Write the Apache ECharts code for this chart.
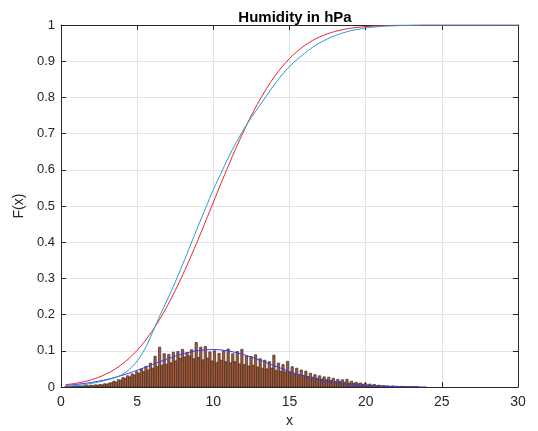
<!DOCTYPE html>
<html><head><meta charset="utf-8">
<script src="https://cdn.jsdelivr.net/npm/echarts@6/dist/echarts.min.js"></script>
<style>html,body{margin:0;padding:0;background:#fff}#c{width:538px;height:431px}</style>
</head><body><div id="c"></div>
<script>
const titleText = 'Humidity in hPa';
const xName = 'x';
const yName = 'F(x)';
const binStart = 0.25;
const binWidth = 0.15;
const histValues = [
0.001,0.002,0.001,0.002,0.002,0.002,0.003,0.002,0.003,0.004,
0.003,0.005,0.004,0.006,0.005,0.007,0.006,0.009,0.008,0.011,
0.012,0.016,0.014,0.020,0.019,0.026,0.024,0.031,0.028,0.036,
0.033,0.042,0.038,0.050,0.043,0.057,0.047,0.066,0.052,0.085,
0.056,0.110,0.060,0.092,0.063,0.090,0.067,0.096,0.072,0.098,
0.080,0.104,0.083,0.095,0.086,0.103,0.078,0.123,0.082,0.110,
0.075,0.112,0.080,0.097,0.072,0.100,0.068,0.093,0.074,0.100,
0.070,0.105,0.067,0.092,0.070,0.098,0.064,0.104,0.062,0.086,
0.058,0.084,0.060,0.089,0.055,0.078,0.052,0.074,0.050,0.070,
0.052,0.088,0.046,0.066,0.044,0.062,0.042,0.071,0.040,0.056,
0.036,0.052,0.034,0.047,0.032,0.044,0.029,0.038,0.027,0.034,
0.024,0.031,0.022,0.028,0.020,0.027,0.018,0.024,0.016,0.021,
0.015,0.020,0.013,0.021,0.011,0.016,0.010,0.013,0.009,0.011,
0.007,0.010,0.006,0.008,0.005,0.007,0.004,0.005,0.003,0.004,
0.003,0.003,0.002,0.003,0.002,0.002,0.001,0.002,0.001,0.001,
0.001,0.001,0.0005,0.0005,0.0005
];
const pdfX = [0.3,1,2,3,4,5,6,7,8,9,10,11,12,13,14,15,16,17,18,19,20,21,22,23,24];
const pdfY = [0.0046,0.0072,0.0126,0.0208,0.0320,0.0461,0.0620,0.0780,0.0917,0.1008,0.1036,0.0995,0.0893,0.0749,0.0588,0.0431,0.0295,0.0189,0.0113,0.0063,0.0033,0.0016,0.0007,0.0003,0.0001];
const fitX = [0.3,1,1.5,2,2.5,3,3.5,4,4.5,5,5.5,6,6.5,7,7.5,8,8.5,9,9.5,10,10.5,11,11.5,12,12.5,13,13.5,14,14.5,15,15.5,16,16.5,17,17.5,18,18.5,19,19.5,20,21,22,23,24,30];
const fitY = [0.0063,0.0104,0.0146,0.0201,0.0273,0.0366,0.0483,0.0627,0.0803,0.1015,0.1265,0.1555,0.1886,0.2257,0.2666,0.3107,0.358,0.4075,0.4586,0.5104,0.562,0.6125,0.661,0.7072,0.7502,0.7896,0.8251,0.8566,0.884,0.9074,0.9271,0.9434,0.9568,0.9674,0.9758,0.9823,0.9873,0.991,0.9937,0.9956,0.998,0.9992,0.9997,1.0,1.0];
const ecdfX = [0.3,1,1.5,2,2.5,3,3.5,4,4.5,5,5.5,6,6.5,7,7.5,8,8.5,9,9.5,10,10.5,11,11.5,12,12.5,13,13.5,14,14.5,15,15.5,16,16.5,17,17.5,18,18.5,19,19.5,20,21,22,23,24,30];
const ecdfY = [0.002,0.004,0.006,0.010,0.014,0.019,0.025,0.034,0.049,0.072,0.104,0.150,0.198,0.243,0.290,0.340,0.392,0.444,0.495,0.545,0.590,0.635,0.675,0.712,0.745,0.775,0.805,0.835,0.862,0.885,0.905,0.922,0.938,0.951,0.962,0.971,0.978,0.984,0.988,0.992,0.996,0.998,0.999,1.0,1.0];

const pair = (xs, ys) => xs.map((x, i) => [x, ys[i]]);
const histData = histValues.map((v, i) => [binStart + i * binWidth, binStart + (i + 1) * binWidth, v]);

const axisColor = '#262626';
const font = 'Liberation Sans, Arial, Helvetica, sans-serif';
const chart = echarts.init(document.getElementById('c'), null, {renderer: 'canvas'});
chart.setOption({
  animation: false,
  backgroundColor: '#fff',
  title: {text: titleText, left: 290, textAlign: 'center', top: 5,
    textStyle: {fontFamily: font, fontSize: 15, fontWeight: 'bold', color: '#000'}},
  grid: {left: 61, right: 20, top: 25, bottom: 44, containLabel: false, outerBoundsMode: 'none'},
  xAxis: [{
    type: 'value', min: 0, max: 30, interval: 5, position: 'bottom',
    name: xName, nameLocation: 'middle', nameGap: 25,
    nameTextStyle: {fontFamily: font, fontSize: 14, color: axisColor},
    axisLine: {show: true, onZero: false, lineStyle: {color: axisColor, width: 1}},
    axisTick: {show: true, inside: true, length: 5, lineStyle: {color: axisColor}},
    axisLabel: {fontFamily: font, fontSize: 14, color: axisColor, margin: 8},
    splitLine: {show: true, lineStyle: {color: '#e3e3e3', width: 1}}
  }, {
    type: 'value', min: 0, max: 30, interval: 5, position: 'top',
    axisLine: {show: true, onZero: false, lineStyle: {color: axisColor, width: 1}},
    axisTick: {show: true, inside: true, length: 5, lineStyle: {color: axisColor}},
    axisLabel: {show: false}, splitLine: {show: false}
  }],
  yAxis: [{
    type: 'value', min: 0, max: 1, interval: 0.1, position: 'left',
    name: yName, nameLocation: 'middle', nameGap: 31, nameRotate: 90,
    nameTextStyle: {fontFamily: font, fontSize: 14, color: axisColor},
    axisLine: {show: true, onZero: false, lineStyle: {color: axisColor, width: 1}},
    axisTick: {show: true, inside: true, length: 5, lineStyle: {color: axisColor}},
    axisLabel: {fontFamily: font, fontSize: 13, color: axisColor, margin: 6},
    splitLine: {show: true, lineStyle: {color: '#e3e3e3', width: 1}}
  }, {
    type: 'value', min: 0, max: 1, interval: 0.1, position: 'right',
    axisLine: {show: true, onZero: false, lineStyle: {color: axisColor, width: 1}},
    axisTick: {show: true, inside: true, length: 5, lineStyle: {color: axisColor}},
    axisLabel: {show: false}, splitLine: {show: false}
  }],
  series: [{
    type: 'custom', xAxisIndex: 0, yAxisIndex: 0,
    data: histData, encode: {x: [0, 1], y: 2},
    renderItem: function (params, api) {
      const p0 = api.coord([api.value(0), api.value(2)]);
      const p1 = api.coord([api.value(1), 0]);
      return {type: 'rect', shape: {x: p0[0], y: p0[1], width: p1[0] - p0[0], height: p1[1] - p0[1]},
        style: {fill: '#a85a38', stroke: '#3e2c24', lineWidth: 0.7}};
    }, z: 2
  }, {
    type: 'line', data: pair(pdfX, pdfY), smooth: 0.3, showSymbol: false,
    lineStyle: {color: '#3a3af0', width: 1}, z: 3
  }, {
    type: 'line', data: pair(fitX, fitY), smooth: 0.3, showSymbol: false,
    lineStyle: {color: '#e8252e', width: 1}, z: 4
  }, {
    type: 'line', data: pair(ecdfX, ecdfY), smooth: 0.3, showSymbol: false,
    lineStyle: {color: '#2b9bd0', width: 1}, z: 5
  }]
});
</script></body></html>
